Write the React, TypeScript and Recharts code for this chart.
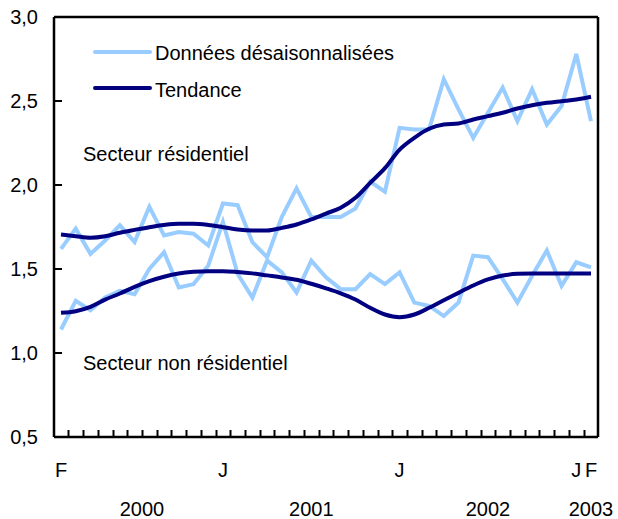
import { LineChart, Line, XAxis, YAxis, ReferenceLine } from "recharts";

// Feb 2000 .. Feb 2003, monthly
const periods = [
  "2000-02", "2000-03", "2000-04", "2000-05", "2000-06", "2000-07", "2000-08", "2000-09", "2000-10", "2000-11", "2000-12",
  "2001-01", "2001-02", "2001-03", "2001-04", "2001-05", "2001-06", "2001-07", "2001-08", "2001-09", "2001-10", "2001-11", "2001-12",
  "2002-01", "2002-02", "2002-03", "2002-04", "2002-05", "2002-06", "2002-07", "2002-08", "2002-09", "2002-10", "2002-11", "2002-12",
  "2003-01", "2003-02",
];
const monthLabels = [
  "F", "", "", "", "", "", "", "", "", "", "",
  "J", "", "", "", "", "", "", "", "", "", "", "",
  "J", "", "", "", "", "", "", "", "", "", "", "",
  "J", "F",
];
const yearLabels = ["2000", "2001", "2002", "2003"];
const yearIndex = [5.5, 17, 29, 36];

const resSA = [
  1.62, 1.74, 1.59, 1.67, 1.76, 1.66, 1.87, 1.7, 1.72, 1.71, 1.64,
  1.89, 1.88, 1.66, 1.57, 1.81, 1.98, 1.81, 1.81, 1.81, 1.86, 2.02, 1.96,
  2.34, 2.33, 2.33, 2.63, 2.45, 2.28, 2.43, 2.58, 2.38, 2.57, 2.36, 2.47,
  2.78, 2.38,
];
const resTrend = [
  1.705, 1.695, 1.686, 1.695, 1.716, 1.733, 1.749, 1.762, 1.769, 1.769, 1.762,
  1.749, 1.735, 1.729, 1.729, 1.745, 1.765, 1.795, 1.83, 1.865, 1.924, 2.013, 2.1,
  2.211, 2.281, 2.335, 2.36, 2.366, 2.39, 2.41, 2.43, 2.455, 2.475, 2.489, 2.499,
  2.509, 2.525,
];
const nonSA = [
  1.14, 1.31, 1.255, 1.33, 1.37, 1.35, 1.5, 1.6, 1.39, 1.41, 1.52,
  1.78, 1.47, 1.33, 1.55, 1.48, 1.36, 1.55, 1.45, 1.38, 1.38, 1.47, 1.41,
  1.48, 1.3, 1.28, 1.22, 1.3, 1.58, 1.57, 1.44, 1.3, 1.46, 1.61, 1.4,
  1.54, 1.51,
];
const nonTrend = [
  1.239, 1.249, 1.275, 1.318, 1.354, 1.394, 1.428, 1.454, 1.473, 1.483, 1.487,
  1.487, 1.482, 1.474, 1.462, 1.45, 1.436, 1.412, 1.385, 1.355, 1.318, 1.269, 1.229,
  1.213, 1.229, 1.269, 1.314, 1.358, 1.402, 1.438, 1.461, 1.471, 1.473, 1.473, 1.473,
  1.473, 1.473,
];
const yTicks = [0.5, 1, 1.5, 2, 2.5, 3];

const data = periods.map((p, i) => ({
  p,
  resSA: resSA[i],
  resTrend: resTrend[i],
  nonSA: nonSA[i],
  nonTrend: nonTrend[i],
}));

const W = 618;
const H = 519;
const LEFT = 54;
const RIGHT = 20;
const TOP = 17;
const BOTTOM = 2;
const XH = 80;
const PAD = 7;
const STEP = (W - LEFT - RIGHT - 2 * PAD) / (periods.length - 1);
const AXIS_Y = H - BOTTOM - XH;
const FONT = "'Liberation Sans', Arial, sans-serif";
const LIGHT = "#99ccff";
const DARK = "#000080";

function XTick(props: any) {
  const { x, y, index } = props;
  const m = monthLabels[index];
  const yi = yearIndex.findIndex((v) => Math.floor(v) === index);
  return (
    <g>
      {m ? (
        <text x={x} y={y + 40} textAnchor="middle" fontSize={20} fontFamily={FONT} fill="#000">
          {m}
        </text>
      ) : null}
      {yi >= 0 && (
        <text
          x={x + (yearIndex[yi] - index) * STEP}
          y={y + 79}
          textAnchor="middle"
          fontSize={20}
          fontFamily={FONT}
          fill="#000"
        >
          {yearLabels[yi]}
        </text>
      )}
    </g>
  );
}

function YTick(props: any) {
  const { x, y, payload } = props;
  return (
    <text x={x - 16} y={y} dy="0.36em" textAnchor="end" fontSize={20} fontFamily={FONT} fill="#000">
      {payload.value.toFixed(1).replace(".", ",")}
    </text>
  );
}

// inner tick marks: month ticks sit between the points, value ticks point right
const monthTickX = periods.slice(1).map((_, k) => Math.round(LEFT + PAD + STEP * (k + 0.5)) + 0.5);
const valueTickY = yTicks.map((v) => TOP + ((3 - v) / 2.5) * (AXIS_Y - TOP));

export default function App() {
  return (
    <div style={{ position: "absolute", left: 0, top: 0, width: W, height: H, background: "#fff" }}>
      <LineChart width={W} height={H} data={data} margin={{ top: TOP, right: 0, left: 0, bottom: BOTTOM }}>
        <XAxis
          dataKey="p"
          interval={0}
          padding={{ left: PAD, right: PAD }}
          tickSize={0}
          tickMargin={0}
          tickLine={false}
          height={XH}
          axisLine={{ stroke: "#000", strokeWidth: 2.5 }}
          tick={<XTick />}
        />
        <YAxis
          yAxisId="l"
          domain={[0.5, 3]}
          ticks={yTicks}
          width={LEFT}
          tickSize={0}
          tickMargin={0}
          tickLine={false}
          axisLine={{ stroke: "#000", strokeWidth: 2.5 }}
          tick={<YTick />}
        />
        <YAxis
          yAxisId="r"
          orientation="right"
          domain={[0.5, 3]}
          width={RIGHT}
          tick={false}
          tickLine={false}
          axisLine={{ stroke: "#000", strokeWidth: 2.5 }}
        />
        <ReferenceLine yAxisId="l" y={3} stroke="#000" strokeWidth={2.5} />
        <Line yAxisId="l" type="linear" dataKey="resSA" stroke={LIGHT} strokeWidth={4} dot={false} isAnimationActive={false} />
        <Line yAxisId="l" type="linear" dataKey="nonSA" stroke={LIGHT} strokeWidth={4} dot={false} isAnimationActive={false} />
        <Line yAxisId="l" type="monotone" dataKey="resTrend" stroke={DARK} strokeWidth={4} dot={false} isAnimationActive={false} />
        <Line yAxisId="l" type="monotone" dataKey="nonTrend" stroke={DARK} strokeWidth={4} dot={false} isAnimationActive={false} />
      </LineChart>
      <svg
        width={W}
        height={H}
        style={{ position: "absolute", left: 0, top: 0, pointerEvents: "none" }}
        fontFamily={FONT}
        fontSize={20}
      >
        {monthTickX.map((tx) => (
          <line key={tx} x1={tx} x2={tx} y1={AXIS_Y} y2={AXIS_Y - 7} stroke="#000" strokeWidth={2} />
        ))}
        {valueTickY.map((ty) => (
          <line key={ty} x1={LEFT} x2={LEFT + 8} y1={ty} y2={ty} stroke="#000" strokeWidth={2} />
        ))}
        <line x1={95} x2={150} y1={52} y2={52} stroke={LIGHT} strokeWidth={4} strokeLinecap="round" />
        <text x={155} y={60} fill="#000">Données désaisonnalisées</text>
        <line x1={95} x2={150} y1={88} y2={88} stroke={DARK} strokeWidth={4} strokeLinecap="round" />
        <text x={155} y={97} fill="#000">Tendance</text>
        <text x={83} y={161} fill="#000">Secteur résidentiel</text>
        <text x={83} y={370} fill="#000">Secteur non résidentiel</text>
      </svg>
    </div>
  );
}
